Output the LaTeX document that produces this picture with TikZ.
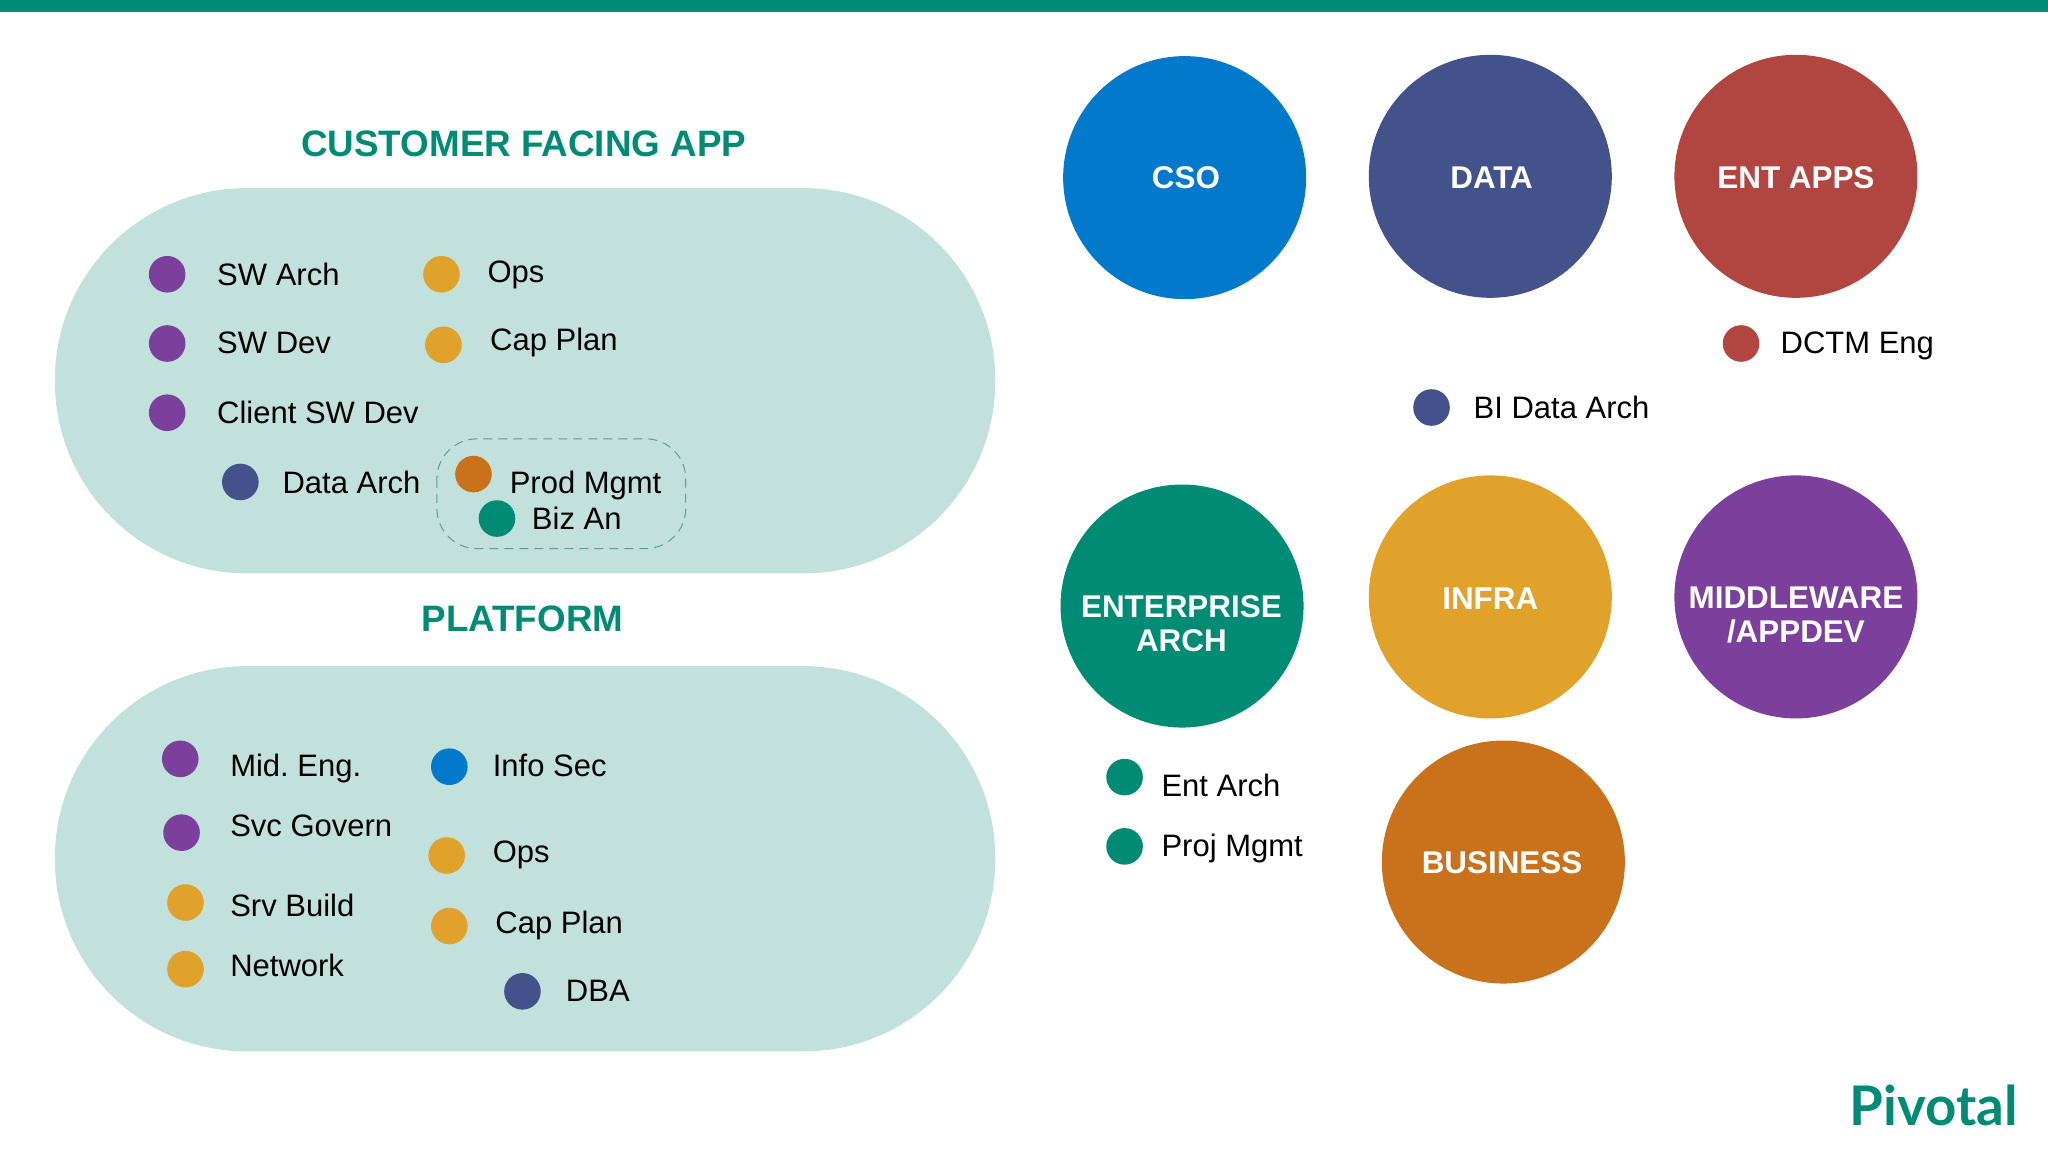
\documentclass[tikz,border=0pt]{standalone}
\usepackage{fontspec}
\setmainfont{Liberation Sans}
\newfontfamily\logofont{Lato}
\usetikzlibrary{positioning}
\definecolor{teal}{HTML}{008B74}
\definecolor{pillgreen}{HTML}{C3E1DC}
\definecolor{dashgreen}{HTML}{5F9C94}
\definecolor{blue}{HTML}{0379CB}
\definecolor{navy}{HTML}{44528B}
\definecolor{brick}{HTML}{B0463F}
\definecolor{amber}{HTML}{E0A22B}
\definecolor{plum}{HTML}{7B3F9C}
\definecolor{rust}{HTML}{C9711B}
\tikzset{
	team/.style={circle, minimum size=121.5pt, inner sep=0pt},
	teamtext/.style={text=white, align=center, inner sep=0pt, font=\bfseries\fontsize{15.7}{17}\selectfont},
	dot/.style={circle, minimum size=18.3pt, inner sep=0pt},
	lbl/.style={anchor=base west, inner sep=0pt, font=\fontsize{15.5}{18}\selectfont},
	heading/.style={text=teal, font=\bfseries\fontsize{18.4}{22}\selectfont},
	pill/.style={fill=pillgreen, rounded corners=96pt},
}

\begin{document}
\begin{tikzpicture}[x=0.653pt, y=-0.653pt]
		\useasboundingbox (0,0) rectangle (1568,882);
		\fill[teal] (0,0) rectangle (1568,9);
		%
		\node[heading] (cfa) at (401,110) {CUSTOMER FACING APP};
		\fill[pill] (42,144) rectangle (762,439);
		\node[heading] (platform) at (400,474) {PLATFORM};
		\fill[pill] (42,510) rectangle (762,805);
		\draw[dashgreen, dash pattern=on 4.5pt off 3pt, line width=0.5pt, rounded corners=20pt] (334.5,336) rectangle (525,420);
		%
		\node[dot, fill=plum] (swarch) at (128,210) {};
		\node[lbl] (swarchl) at (166,218.5) {SW Arch};
		\node[dot, fill=amber] (ops) at (338,210) {};
		\node[lbl] (opsl) at (373,216.5) {Ops};
		\node[dot, fill=plum] (swdev) at (128,263) {};
		\node[lbl] (swdevl) at (166,270.5) {SW Dev};
		\node[dot, fill=amber] (capplan) at (339.5,264) {};
		\node[lbl] (capplanl) at (375,268.5) {Cap Plan};
		\node[dot, fill=plum] (clientsw) at (128,316) {};
		\node[lbl] (clientswl) at (166,324.5) {Client SW Dev};
		\node[dot, fill=navy] (dataarch) at (184,369) {};
		\node[lbl] (dataarchl) at (216,377.5) {Data Arch};
		\node[dot, fill=rust] (prodmgmt) at (362.5,363) {};
		\node[lbl] (prodmgmtl) at (390,377.5) {Prod Mgmt};
		\node[dot, fill=teal] (bizan) at (380.5,397) {};
		\node[lbl] (bizanl) at (407,405.5) {Biz An};
		%
		\node[dot, fill=plum] (mideng) at (138,581) {};
		\node[lbl] (midengl) at (176,594.5) {Mid.\ Eng.};
		\node[dot, fill=blue] (infosec) at (344,587) {};
		\node[lbl] (infosecl) at (377,594.5) {Info Sec};
		\node[dot, fill=plum] (svcgovern) at (139,637.5) {};
		\node[lbl] (svcgovernl) at (176,640.5) {Svc Govern};
		\node[dot, fill=amber] (opsb) at (342,655) {};
		\node[lbl] (opsbl) at (377,660.5) {Ops};
		\node[dot, fill=amber] (srvbuild) at (142,691) {};
		\node[lbl] (srvbuildl) at (176,701.5) {Srv Build};
		\node[dot, fill=amber] (capplanb) at (344,709) {};
		\node[lbl] (capplanbl) at (379,714.5) {Cap Plan};
		\node[dot, fill=amber] (network) at (142,742) {};
		\node[lbl] (networkl) at (176,747.5) {Network};
		\node[dot, fill=navy] (dba) at (400,759) {};
		\node[lbl] (dbal) at (433,766.5) {DBA};
		%
		\node[team, fill=blue] (cso) at (907,136) {};
		\node[teamtext] (csol) at (908,136) {CSO};
		\node[team, fill=navy] (data) at (1141,135) {};
		\node[teamtext] (datal) at (1142,136) {DATA};
		\node[team, fill=brick] (entapps) at (1375,135) {};
		\node[teamtext] (entappsl) at (1375,136) {ENT APPS};
		\node[team, fill=teal] (entarch) at (905,464) {};
		\node[teamtext] (entarchl) at (904.5,477.5) {ENTERPRISE\\ARCH};
		\node[team, fill=amber] (infra) at (1141,457) {};
		\node[teamtext] (infral) at (1141,458) {INFRA};
		\node[team, fill=plum] (middleware) at (1375,457) {};
		\node[teamtext] (middlewarel) at (1375,470.5) {MIDDLEWARE\\/APPDEV};
		\node[team, fill=rust] (business) at (1151,660) {};
		\node[teamtext] (businessl) at (1150,660.5) {BUSINESS};
		%
		\node[dot, fill=brick] (dctm) at (1333,263) {};
		\node[lbl] (dctml) at (1363,270.5) {DCTM Eng};
		\node[dot, fill=navy] (bidata) at (1096,312) {};
		\node[lbl] (bidatal) at (1128,320.5) {BI Data Arch};
		\node[dot, fill=teal] (ea) at (861,595) {};
		\node[lbl] (eal) at (889,609.5) {Ent Arch};
		\node[dot, fill=teal] (projmgmt) at (861,648) {};
		\node[lbl] (projmgmtl) at (889,655.5) {Proj Mgmt};
		%
		\node[anchor=base west, inner sep=0pt, text=teal, font=\logofont\bfseries\fontsize{27.3}{27}\selectfont] (logo) at (1416,861.5) {Pivotal};
	\end{tikzpicture}
\end{document}
